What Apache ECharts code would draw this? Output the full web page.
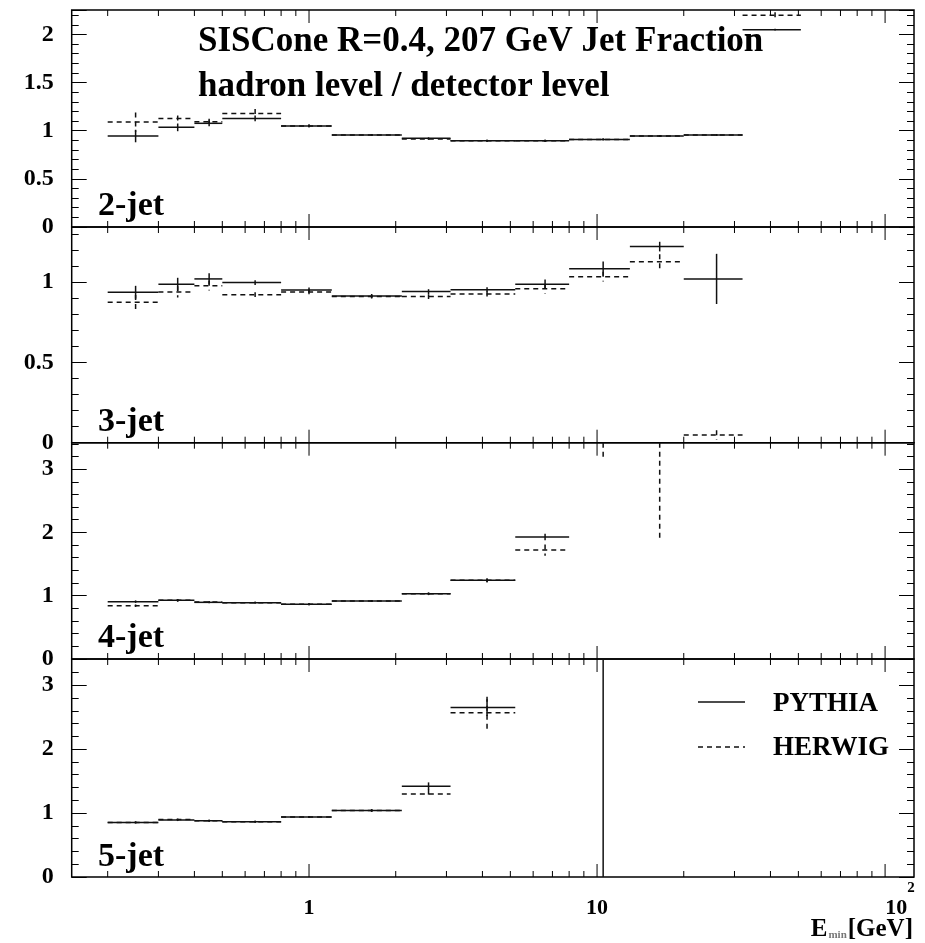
<!DOCTYPE html>
<html><head><meta charset="utf-8">
<script src="https://cdn.jsdelivr.net/npm/echarts@6/dist/echarts.min.js"></script>
<style>html,body{margin:0;padding:0;background:#fff}#c{width:925px;height:943px}</style>
</head><body><div id="c"></div>
<script>
// ---- data ----
const binEdges = [0.2, 0.3, 0.4, 0.5, 0.8, 1.2, 2.1, 3.1, 5.2, 8, 13, 20, 32, 51];
const panelNames = ['2-jet', '3-jet', '4-jet', '5-jet'];

const pythia2    = [0.945, 1.035, 1.077, 1.128, 1.05, 0.955, 0.921, 0.896, 0.896, 0.91, 0.945, 0.955, 2.05];
const pythia2Err = [0.065, 0.04, 0.03, 0.03, 0.015, 0.01, 0.01, 0.01, 0.01, 0.01, 0.01, 0.01, 0.01];
const herwig2    = [1.09, 1.128, 1.094, 1.18, 1.05, 0.955, 0.915, 0.896, 0.896, 0.91, 0.945, 0.955, 2.2];
const herwig2Err = [0.1, 0.03, 0.03, 0.045, 0.015, 0.01, 0.01, 0.01, 0.01, 0.01, 0.01, 0.01, 0.03];

const pythia3    = [0.936, 0.986, 1.019, 0.996, 0.95, 0.913, 0.94, 0.952, 0.986, 1.083, 1.22, 1.019, null];
const pythia3Err = [0.04, 0.04, 0.035, 0.015, 0.015, 0.012, 0.015, 0.015, 0.03, 0.045, 0.03, 0.156, null];
const herwig3    = [0.874, 0.938, 0.977, 0.921, 0.938, 0.909, 0.909, 0.925, 0.958, 1.033, 1.126, 0.048, null];
const herwig3Err = [0.045, 0.035, 0.03, 0.015, 0.015, 0.012, 0.015, 0.015, 0.03, 0.03, 0.047, 0.03, null];

const pythia4    = [0.906, 0.927, 0.895, 0.89, 0.864, 0.916, 1.03, 1.243, 1.927, null, null, null, null];
const pythia4Err = [0.02, 0.02, 0.015, 0.015, 0.015, 0.015, 0.02, 0.03, 0.05, null, null, null, null];
const herwig4    = [0.842, 0.927, 0.9, 0.89, 0.864, 0.916, 1.03, 1.243, 1.72, 3.9, 3.7, null, null];
const herwig4Err = [0.02, 0.02, 0.015, 0.015, 0.015, 0.015, 0.02, 0.03, 0.09, 0.76, 1.82, null, null];

const pythia5    = [0.854, 0.89, 0.88, 0.865, 0.94, 1.04, 1.42, 2.65, null, 6.0, null, null, null];
const pythia5Err = [0.015, 0.015, 0.015, 0.015, 0.015, 0.02, 0.06, 0.13, null, 6.2, null, null, null];
const herwig5    = [0.854, 0.9, 0.88, 0.865, 0.94, 1.04, 1.297, 2.57, null, null, null, null, null];
const herwig5Err = [0.015, 0.015, 0.015, 0.015, 0.015, 0.02, 0.07, 0.25, null, null, null, null, null];

const yMax = [2.254, 1.342, 3.417, 3.41];
const yInterval = [0.5, 0.5, 1, 1];
const xMin = 0.15, xMax = 126;
const xMajorTicks = [1, 10, 100];
const xMajorLabels = ['1', '10', '10^2'];
const xMinorTicks = [0.2, 0.3, 0.4, 0.5, 0.6, 0.7, 0.8, 0.9, 2, 3, 4, 5, 6, 7, 8, 9, 20, 30, 40, 50, 60, 70, 80, 90];
const seriesNames = ['PYTHIA', 'HERWIG'];
const titleLines = ['SISCone R=0.4, 207 GeV Jet Fraction', 'hadron level / detector level'];

// ---- layout ----
const FONT = '"Liberation Serif", "Times New Roman", serif';
const gridTops = [10, 227, 442.7, 659];
const gridBots = [227, 442.7, 659, 877];
const gridLeft = 71.7, gridWidth = 842.3;

const pyVals = [pythia2, pythia3, pythia4, pythia5];
const pyErrs = [pythia2Err, pythia3Err, pythia4Err, pythia5Err];
const hwVals = [herwig2, herwig3, herwig4, herwig5];
const hwErrs = [herwig2Err, herwig3Err, herwig4Err, herwig5Err];

function histData(vals, errs) {
  const out = [];
  for (let i = 0; i < vals.length; i++) {
    if (vals[i] == null) continue;
    out.push([binEdges[i], binEdges[i + 1], vals[i], errs[i]]);
  }
  return out;
}

function histRender(dashed) {
  return function (params, api) {
    const lo = api.value(0), hi = api.value(1), v = api.value(2), e = api.value(3);
    const cs = params.coordSys;
    const top = cs.y, bot = cs.y + cs.height;
    const p1 = api.coord([lo, v]), p2 = api.coord([hi, v]);
    const xc = api.coord([(lo + hi) / 2, v])[0];
    const ya = api.coord([lo, v + e])[1], yb = api.coord([lo, v - e])[1];
    const style = { stroke: '#111', lineWidth: 1.5, lineDash: dashed ? [5, 4] : null, fill: null };
    const children = [];
    if (p1[1] >= top - 0.5 && p1[1] <= bot + 0.5) {
      children.push({ type: 'line', shape: { x1: p1[0], y1: p1[1], x2: p2[0], y2: p2[1] }, style: style });
    }
    const y1 = Math.max(top, Math.min(bot, ya)), y2 = Math.max(top, Math.min(bot, yb));
    if (y2 - y1 > 0.5) {
      children.push({ type: 'line', shape: { x1: xc, y1: y1, x2: xc, y2: y2 }, style: style });
    }
    return { type: 'group', children: children };
  };
}

function tickRender(params, api) {
  const v = api.value(0), major = api.value(2);
  const cs = params.coordSys;
  const x = api.coord([v, 0])[0];
  const L = major ? 13 : 6;
  const st = { stroke: '#000', lineWidth: 1 };
  return { type: 'group', children: [
    { type: 'line', shape: { x1: x, y1: cs.y + cs.height, x2: x, y2: cs.y + cs.height - L }, style: st },
    { type: 'line', shape: { x1: x, y1: cs.y, x2: x, y2: cs.y + L }, style: st }
  ]};
}

const tickData = xMajorTicks.map(v => [v, 0, 1]).concat(xMinorTicks.map(v => [v, 0, 0]));

const grids = [], xAxes = [], yAxes = [], series = [];
for (let i = 0; i < 4; i++) {
  grids.push({ left: gridLeft, width: gridWidth, top: gridTops[i], height: gridBots[i] - gridTops[i],
    show: true, borderColor: '#000', borderWidth: 1.5, backgroundColor: 'transparent' });
  xAxes.push({
    gridIndex: i, type: 'log', logBase: 10, min: xMin, max: xMax,
    axisLine: { show: false }, axisTick: { show: false }, minorTick: { show: false },
    splitLine: { show: false }, minorSplitLine: { show: false },
    axisLabel: {
      show: i === 3, margin: 4, color: '#000', fontFamily: FONT, fontWeight: 'bold', fontSize: 22,
      formatter: function (val) {
        for (let k = 0; k < xMajorTicks.length; k++) {
          if (Math.abs(val - xMajorTicks[k]) / xMajorTicks[k] < 1e-6) {
            const s = xMajorLabels[k];
            if (s.indexOf('^') >= 0) {
              const parts = s.split('^');
              return '{sp|}{n|' + parts[0] + '}{sup|' + parts[1] + '}';
            }
            return '{n|' + s + '}';
          }
        }
        return '';
      },
      rich: {
        sp: { width: 30 },
        n: { fontFamily: FONT, fontWeight: 'bold', fontSize: 22, color: '#000', padding: [16, 0, 0, 0], verticalAlign: 'bottom' },
        sup: { fontFamily: FONT, fontWeight: 'bold', fontSize: 15, color: '#000', verticalAlign: 'top' }
      }
    }
  });
  const iv = yInterval[i];
  const common = {
    gridIndex: i, type: 'value', min: 0, max: yMax[i], interval: iv,
    axisLine: { show: false }, splitLine: { show: false },
    axisTick: { show: true, inside: true, length: 15, lineStyle: { color: '#000', width: 1 } },
    minorTick: { show: true, splitNumber: 5, length: 7, lineStyle: { color: '#000', width: 1 } }
  };
  yAxes.push(Object.assign({}, common, {
    position: 'left',
    axisLabel: {
      show: true, margin: 18, color: '#000', fontFamily: FONT, fontWeight: 'bold', fontSize: 24,
      formatter: function (v) {
        const r = v / iv;
        return Math.abs(r - Math.round(r)) < 1e-6 ? String(v) : '';
      }
    }
  }));
  yAxes.push(Object.assign({}, common, { position: 'right', axisLabel: { show: false } }));

  series.push({
    type: 'custom', name: 'ticks' + i, xAxisIndex: i, yAxisIndex: 2 * i, silent: true,
    renderItem: tickRender, data: tickData, encode: { x: 0, y: 1 }, animation: false
  });
  series.push({
    type: 'custom', name: seriesNames[0], xAxisIndex: i, yAxisIndex: 2 * i, silent: true,
    renderItem: histRender(false), data: histData(pyVals[i], pyErrs[i]), encode: { x: [0, 1], y: 2 }, animation: false
  });
  series.push({
    type: 'custom', name: seriesNames[1], xAxisIndex: i, yAxisIndex: 2 * i, silent: true,
    renderItem: histRender(true), data: histData(hwVals[i], hwErrs[i]), encode: { x: [0, 1], y: 2 }, animation: false
  });
}

const labelY = [206, 422.5, 638, 857];
const graphic = [];
titleLines.forEach((t, k) => {
  graphic.push({ type: 'text', x: 198, y: k === 0 ? 42 : 87, z: 100,
    style: { text: t, font: 'bold 35px ' + FONT, fill: '#000', align: 'left', verticalAlign: 'middle' } });
});
panelNames.forEach((t, k) => {
  graphic.push({ type: 'text', x: 98, y: labelY[k], z: 100,
    style: { text: t, font: 'bold 34px ' + FONT, fill: '#000', align: 'left', verticalAlign: 'middle' } });
});
// legend
graphic.push({ type: 'line', shape: { x1: 698, y1: 702, x2: 745, y2: 702 }, style: { stroke: '#111', lineWidth: 1.5 } });
graphic.push({ type: 'line', shape: { x1: 698, y1: 747, x2: 745, y2: 747 }, style: { stroke: '#111', lineWidth: 1.5, lineDash: [5, 4] } });
graphic.push({ type: 'text', x: 773, y: 704, style: { text: seriesNames[0], font: 'bold 27px ' + FONT, fill: '#000', align: 'left', verticalAlign: 'middle' } });
graphic.push({ type: 'text', x: 773, y: 748, style: { text: seriesNames[1], font: 'bold 27px ' + FONT, fill: '#000', align: 'left', verticalAlign: 'middle' } });
// x axis title
graphic.push({ type: 'text', x: 913, y: 930, style: {
  text: '{e|E}{s|min}{g|[GeV]}', align: 'right', verticalAlign: 'middle',
  rich: {
    e: { font: 'bold 25px ' + FONT, fill: '#000' },
    s: { font: 'bold 11px ' + FONT, fill: '#777', padding: [10, 1, 0, 1] },
    g: { font: 'bold 25px ' + FONT, fill: '#000' }
  }
}});

const chart = echarts.init(document.getElementById('c'), null, { renderer: 'canvas' });
chart.setOption({
  animation: false,
  backgroundColor: '#fff',
  grid: grids, xAxis: xAxes, yAxis: yAxes, series: series, graphic: graphic
});
</script>
</body></html>
